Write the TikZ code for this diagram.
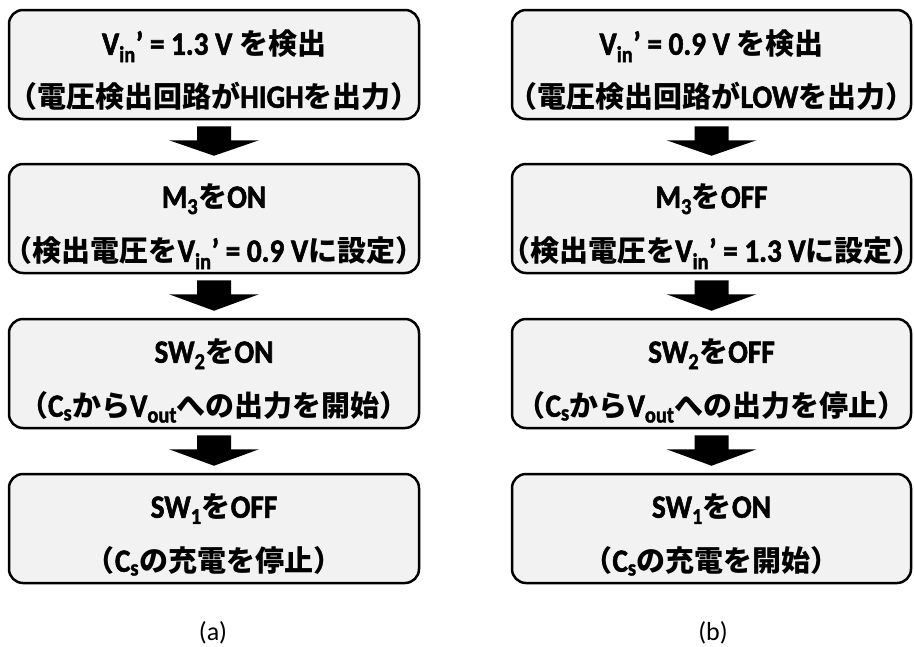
\documentclass[tikz,border=0pt]{standalone}
\usepackage{fontspec}
\setmainfont{Noto Sans CJK JP}
\newfontfamily\capfont{Carlito}
\newfontfamily\lat{Carlito}[Scale=1.12, FakeStretch=0.9, BoldFeatures={FakeBold=1.6}]
\usetikzlibrary{calc}
\definecolor{boxgray}{HTML}{F2F2F2}
\newcommand\lpar{\makebox[0.58em][r]{（}}
\newcommand\rpar{\makebox[0.58em][l]{）}}
\newcommand\La[1]{{\lat\bfseries #1}}
\newcommand\Vin{\La{V\textsubscript{in}’}}
\newcommand\flowarrow[2]{%
  \fill[black] ($(#1.south)+(-17,6)$) -- ($(#1.south)+(17,6)$) -- ($(#1.south)+(17,20)$)
    -- ($(#1.south)+(45,20)$) -- ($(#2.north)+(0,-7)$) -- ($(#1.south)+(-45,20)$)
    -- ($(#1.south)+(-17,20)$) -- cycle;}
\tikzset{
  flowbox/.style={draw=black, line width=2.5pt, fill=boxgray, rounded corners=14pt,
    minimum height=109pt, inner sep=0pt},
  leftbox/.style={flowbox, minimum width=410pt},
  rightbox/.style={flowbox, minimum width=399pt},
  txt/.style={font=\fontsize{29}{36}\selectfont\bfseries, anchor=base, inner sep=0pt},
  caption/.style={font=\capfont\fontsize{26}{30}\selectfont, anchor=base, inner sep=0pt}
}
\begin{document}
\begin{tikzpicture}[x=1pt,y=-1pt]
\useasboundingbox (0,0) rectangle (914,646);
% left column
\node[leftbox] (a1) at (214,64.5) {};
\node[leftbox] (a2) at (214,218.5) {};
\node[leftbox] (a3) at (214,373.5) {};
\node[leftbox] (a4) at (214,528.5) {};
% right column
\node[rightbox] (b1) at (711.5,64.5) {};
\node[rightbox] (b2) at (711.5,218.5) {};
\node[rightbox] (b3) at (711.5,373.5) {};
\node[rightbox] (b4) at (711.5,528.5) {};
% texts left
\node[txt] (a1t) at ($(a1.north)+(0,46)$) {\La{\Vin{} = 1.3 V} を検出};
\node[txt] (a1s) at ($(a1.north)+(0,99)$) {\lpar 電圧検出回路が\La{HIGH}を出力\rpar};
\node[txt] (a2t) at ($(a2.north)+(0,45)$) {\La{M\textsubscript{3}}を\La{ON}};
\node[txt] (a2s) at ($(a2.north)+(0,99)$) {\lpar 検出電圧を\La{\Vin{} = 0.9 V}に設定\rpar};
\node[txt] (a3t) at ($(a3.north)+(0,45)$) {\La{SW\textsubscript{2}}を\La{ON}};
\node[txt] (a3s) at ($(a3.north)+(0,99)$) {\lpar\La{C\textsubscript{s}}から\La{V\textsubscript{out}}への出力を開始\rpar};
\node[txt] (a4t) at ($(a4.north)+(0,45)$) {\La{SW\textsubscript{1}}を\La{OFF}};
\node[txt] (a4s) at ($(a4.north)+(0,99)$) {\lpar\La{C\textsubscript{s}}の充電を停止\rpar};
% texts right
\node[txt] (b1t) at ($(b1.north)+(0,46)$) {\La{\Vin{} = 0.9 V} を検出};
\node[txt] (b1s) at ($(b1.north)+(0,99)$) {\lpar 電圧検出回路が\La{LOW}を出力\rpar};
\node[txt] (b2t) at ($(b2.north)+(0,45)$) {\La{M\textsubscript{3}}を\La{OFF}};
\node[txt] (b2s) at ($(b2.north)+(0,99)$) {\lpar 検出電圧を\La{\Vin{} = 1.3 V}に設定\rpar};
\node[txt] (b3t) at ($(b3.north)+(0,45)$) {\La{SW\textsubscript{2}}を\La{OFF}};
\node[txt] (b3s) at ($(b3.north)+(0,99)$) {\lpar\La{C\textsubscript{s}}から\La{V\textsubscript{out}}への出力を停止\rpar};
\node[txt] (b4t) at ($(b4.north)+(0,45)$) {\La{SW\textsubscript{1}}を\La{ON}};
\node[txt] (b4s) at ($(b4.north)+(0,99)$) {\lpar\La{C\textsubscript{s}}の充電を開始\rpar};
% arrows
\flowarrow{a1}{a2}
\flowarrow{a2}{a3}
\flowarrow{a3}{a4}
\flowarrow{b1}{b2}
\flowarrow{b2}{b3}
\flowarrow{b3}{b4}
% captions
\node[caption] (capa) at (213,640) {(a)};
\node[caption] (capb) at (713,640) {(b)};
\end{tikzpicture}
\end{document}
